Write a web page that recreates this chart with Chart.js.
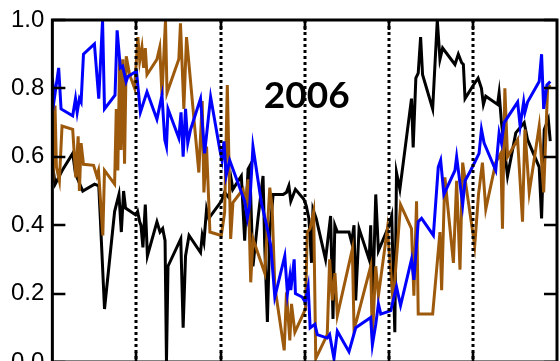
<!DOCTYPE html>
<html>
<head>
<meta charset="utf-8">
<script src="https://cdn.jsdelivr.net/npm/chart.js@4/dist/chart.umd.min.js"></script>
<style>
  html, body { margin: 0; padding: 0; background: #fff; overflow: hidden; }
  #wrap { width: 560px; height: 361px; overflow: hidden; }
</style>
</head>
<body>
<div id="wrap"><canvas id="c" width="560" height="382"></canvas></div>
<script>
// Day of year (0-360, six two-month blocks) and fraction values for each series
const blackDays = [
  0, 2, 7, 14.5, 16.5, 21.7, 30.1, 33.1, 34.1, 37.2,
  44.4, 47.5, 49.2, 50.8, 52.2, 59.4, 60.8, 62.3, 63.2, 64.6,
  66.3, 67.8, 74.6, 76.8, 78.7, 80.4, 81.4, 82.5, 91.6, 93.3,
  95, 97.5, 105.7, 106.9, 108.1, 110, 111.6, 120.5, 122.9, 126,
  127.6, 128.8, 134.8, 137.2, 139.6, 140.8, 143.1, 146.7, 150.3, 151.5,
  153.4, 155.1, 157.5, 164.6, 167, 168.7, 170.1, 173.4, 179.4, 181.1,
  183, 184.9, 185.9, 188.2, 194.9, 198.5, 200.2, 201.5, 203.3, 211.6,
  213.5, 215.2, 216.4, 218.8, 226, 227.1, 228.3, 230.7, 232.6, 240.3,
  242.1, 244.3, 245.5, 247.9, 256.2, 257.4, 259.3, 261, 262.7, 264.1,
  271.3, 274.6, 276.5, 278.4, 287.2, 289.6, 292, 293.2, 294.4, 300.4,
  303.7, 306.1, 307.5, 309.2, 317.6, 318.7, 320.4, 324.7, 330.6, 336.6,
  339, 347.3, 349, 350.9, 353.8, 355.2
];
const blackVals = [
  0.58, 0.52, 0.56, 0.61, 0.55, 0.50, 0.52, 0.515, 0.43, 0.155,
  0.44, 0.49, 0.38, 0.50, 0.45, 0.43, 0.44, 0.41, 0.40, 0.335,
  0.46, 0.31, 0.41, 0.38, 0.39, 0.355, 0.0, 0.28, 0.36, 0.10,
  0.31, 0.37, 0.32, 0.37, 0.35, 0.447, 0.42, 0.47, 0.496, 0.48,
  0.534, 0.505, 0.544, 0.355, 0.564, 0.573, 0.28, 0.42, 0.544, 0.34,
  0.117, 0.38, 0.49, 0.49, 0.496, 0.515, 0.47, 0.505, 0.476, 0.457,
  0.42, 0.29, 0.447, 0.42, 0.30, 0.427, 0.126, 0.40, 0.38, 0.38,
  0.35, 0.40, 0.18, 0.39, 0.30, 0.40, 0.146, 0.49, 0.325, 0.40,
  0.427, 0.087, 0.554, 0.505, 0.77, 0.627, 0.83, 0.845, 0.95, 0.84,
  0.74, 1.0, 0.885, 0.918, 0.87, 0.90, 0.875, 0.87, 0.77, 0.81,
  0.83, 0.80, 0.753, 0.777, 0.753, 0.787, 0.70, 0.544, 0.67, 0.70,
  0.65, 0.57, 0.42, 0.68, 0.71, 0.646
];

const blueDays = [
  0, 1.4, 4.5, 6.2, 14.5, 16.5, 17.7, 19.3, 20.5, 22.2,
  30, 33.1, 35.8, 37.2, 44.7, 46.2, 48.5, 50.1, 52.6, 53.9,
  60, 62.8, 67.5, 74.6, 78.2, 80.2, 81.4, 82.5, 90.2, 91.8,
  93.3, 95, 96.6, 98.6, 105.7, 108.6, 112.9, 119.5, 121, 122.4,
  124, 126.5, 137.2, 139.1, 140.8, 143.1, 149.1, 153.9, 155.8, 158.7,
  165.8, 167.7, 169.4, 170.1, 172.5, 173.4, 178.2, 180.4, 182.5, 183.9,
  187.3, 189, 196.1, 197.8, 200.9, 203.3, 211.6, 214, 216.4, 227.1,
  228.3, 230.7, 232.6, 234.3, 241.4, 245.5, 248.4, 256.2, 257.9, 261,
  263.4, 271.8, 275.3, 277, 279.3, 287.2, 288.4, 292.7, 294.4, 298.4,
  302, 304.4, 306.1, 308, 316.3, 318.7, 320.4, 322.3, 331.9, 333.7,
  336.2, 337.1, 339, 347.3, 349, 350.5, 352.8, 355.2
];
const blueVals = [
  0.83, 0.77, 0.86, 0.74, 0.72, 0.77, 0.73, 0.77, 0.76, 0.90,
  0.93, 0.77, 1.0, 0.74, 0.78, 0.97, 0.86, 0.865, 0.82, 0.835,
  0.85, 0.73, 0.79, 0.71, 0.78, 0.65, 0.63, 0.74, 0.655, 0.73,
  0.60, 0.74, 0.64, 0.68, 0.77, 0.61, 0.775, 0.62, 0.59, 0.645,
  0.545, 0.59, 0.47, 0.42, 0.46, 0.63, 0.466, 0.38, 0.34, 0.19,
  0.31, 0.20, 0.25, 0.21, 0.30, 0.20, 0.19, 0.175, 0.22, 0.10,
  0.11, 0.08, 0.07, 0.08, 0.01, 0.09, 0.03, 0.065, 0.10, 0.13,
  0.05, 0.11, 0.17, 0.14, 0.15, 0.22, 0.165, 0.30, 0.24, 0.41,
  0.42, 0.37, 0.57, 0.59, 0.49, 0.56, 0.60, 0.46, 0.53, 0.56,
  0.59, 0.61, 0.68, 0.64, 0.56, 0.67, 0.64, 0.70, 0.76, 0.69,
  0.76, 0.73, 0.76, 0.82, 0.90, 0.74, 0.81, 0.82
];

const brownDays = [
  0, 0.4, 1.9, 2.9, 5, 6.9, 14.5, 16.7, 18.4, 19.3,
  20.5, 22.2, 29.4, 31.7, 32.9, 36, 37.2, 44.4, 45.6, 46.7,
  48, 49, 50.3, 51.5, 52.7, 55.1, 58.7, 61, 62.3, 63.9,
  65.1, 66.3, 67.5, 74.6, 76.6, 78.2, 80.7, 81.8, 90.2, 91.4,
  93.8, 95.7, 104.5, 106.9, 108.1, 110, 112.4, 120.5, 122.9, 124.8,
  127.2, 128.8, 136, 137.7, 139.6, 141.5, 143.1, 151.5, 155.1, 156.8,
  158.7, 165.4, 167, 169.4, 170.6, 173, 180.6, 181.8, 183.9, 186.4,
  187.9, 196.1, 197.8, 199.7, 201.6, 203.3, 214, 215.2, 216.9, 227.1,
  228.3, 230.7, 232.6, 239, 243.1, 248.4, 256.2, 257.9, 259.8, 261,
  271.3, 276.5, 277.7, 280, 286.1, 288.4, 290.8, 292.7, 301.3, 304,
  306.8, 309.2, 316.3, 319.9, 321.1, 322.8, 324.7, 331.9, 335.4, 337.1,
  340.2, 347.3, 350.5, 353.3, 355.2
];
const brownVals = [
  0.636, 0.53, 0.75, 0.57, 0.53, 0.69, 0.68, 0.54, 0.66, 0.50,
  0.64, 0.578, 0.575, 0.544, 0.56, 0.37, 0.56, 0.52, 0.74, 0.56,
  0.89, 0.62, 0.885, 0.58, 0.894, 0.84, 0.80, 0.95, 0.88, 0.92,
  0.86, 0.918, 0.84, 0.885, 0.92, 0.78, 1.0, 0.787, 0.885, 0.99,
  0.74, 0.95, 0.554, 0.763, 0.496, 0.63, 0.38, 0.37, 0.437, 0.81,
  0.36, 0.466, 0.505, 0.46, 0.534, 0.233, 0.36, 0.26, 0.51, 0.45,
  0.22, 0.034, 0.204, 0.063, 0.17, 0.087, 0.155, 0.38, 0.39, 0.44,
  0.01, 0.08, 0.30, 0.18, 0.26, 0.136, 0.33, 0.10, 0.12, 0.28,
  0.068, 0.28, 0.194, 0.39, 0.175, 0.46, 0.39, 0.194, 0.47, 0.14,
  0.14, 0.38, 0.21, 0.54, 0.29, 0.53, 0.27, 0.583, 0.34, 0.49,
  0.583, 0.447, 0.583, 0.61, 0.39, 0.80, 0.60, 0.65, 0.41, 0.68,
  0.496, 0.69, 0.496, 0.80, 0.81
];

// Block boundaries (dotted separators) and y tick values
const blockEdges = [60, 120, 180, 240, 300];
const yTicks = [0, 0.2, 0.4, 0.6, 0.8, 1.0];
const yearLabel = '2006';

const toPoints = (days, vals) => days.map((d, i) => ({ x: d, y: vals[i] }));

// Frame, inward ticks, dotted separators and the year label
const framePlugin = {
  id: 'frame',
  afterDatasetsDraw(chart) {
    const { ctx, chartArea: a, scales: { x, y } } = chart;
    ctx.save();
    // dotted separators
    ctx.strokeStyle = '#000';
    ctx.lineWidth = 3;
    ctx.setLineDash([3, 3]);
    blockEdges.forEach(d => {
      const px = Math.round(x.getPixelForValue(d));
      ctx.beginPath();
      ctx.moveTo(px, a.top);
      ctx.lineTo(px, a.bottom);
      ctx.stroke();
    });
    ctx.setLineDash([]);
    // solid ticks at the separators
    ctx.lineWidth = 2.6;
    blockEdges.forEach(d => {
      const px = Math.round(x.getPixelForValue(d));
      ctx.beginPath();
      ctx.moveTo(px, a.top);
      ctx.lineTo(px, a.top + 10);
      ctx.moveTo(px, a.bottom);
      ctx.lineTo(px, a.bottom - 10);
      ctx.stroke();
    });
    // inward y ticks on both sides
    yTicks.forEach(v => {
      const py = Math.round(y.getPixelForValue(v));
      ctx.beginPath();
      ctx.moveTo(a.left, py);
      ctx.lineTo(a.left + 13, py);
      ctx.moveTo(a.right, py);
      ctx.lineTo(a.right - 13, py);
      ctx.stroke();
    });
    // frame
    ctx.lineWidth = 3;
    ctx.strokeRect(a.left, a.top, a.right - a.left, a.bottom - a.top);
    // year label
    ctx.fillStyle = '#000';
    ctx.font = 'bold 37px Lato';
    ctx.textAlign = 'center';
    ctx.textBaseline = 'middle';
    ctx.fillText(yearLabel, (a.left + a.right) / 2 + 2, a.top + 76);
    ctx.restore();
  }
};

const lineStyle = { borderWidth: 3, pointRadius: 0, tension: 0, fill: false };

new Chart(document.getElementById('c'), {
  type: 'line',
  data: {
    datasets: [
      Object.assign({ label: 'blue', data: toPoints(blueDays, blueVals), borderColor: '#0000FF' }, lineStyle),
      Object.assign({ label: 'brown', data: toPoints(brownDays, brownVals), borderColor: '#9E5A0C' }, lineStyle),
      Object.assign({ label: 'black', data: toPoints(blackDays, blackVals), borderColor: '#000000' }, lineStyle)
    ]
  },
  options: {
    responsive: false,
    animation: false,
    devicePixelRatio: 1,
    layout: { padding: { left: 3, right: 3, top: 8, bottom: 0 } },
    plugins: { legend: { display: false }, tooltip: { enabled: false } },
    scales: {
      x: { type: 'linear', min: 0, max: 360, display: false },
      y: {
        min: 0, max: 1,
        afterBuildTicks: s => { s.ticks = yTicks.map(v => ({ value: v })); },
        grid: { display: false, drawTicks: false },
        border: { display: false },
        ticks: {
          padding: 8,
          color: '#000',
          font: { family: 'Liberation Sans', size: 24, lineHeight: 1 },
          callback: v => Number(v).toFixed(1)
        }
      }
    }
  },
  plugins: [framePlugin]
});
</script>
</body>
</html>
